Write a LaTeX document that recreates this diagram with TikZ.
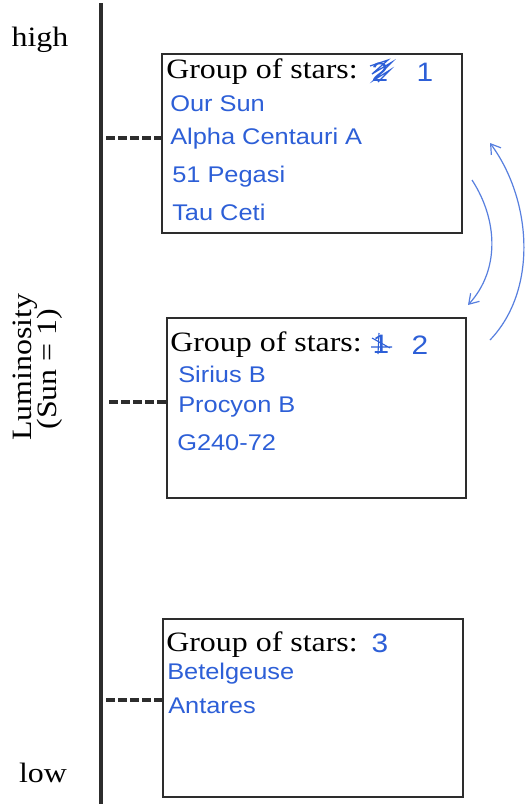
\documentclass[tikz,border=0pt]{standalone}
\usepackage{fontspec}
\setmainfont{Liberation Serif}
\newfontfamily\titlefont[FakeStretch=1.14]{Liberation Serif}
\newfontfamily\handfont[FakeStretch=1.12]{Liberation Sans}
\usetikzlibrary{arrows.meta}
\definecolor{ink}{RGB}{45,95,215}
\definecolor{frame}{RGB}{45,45,45}
\tikzset{
  groupbox/.style={draw=frame, line width=1.4pt},
  title/.style={anchor=west, inner sep=0pt, font=\titlefont\fontsize{21}{24}\selectfont, text=black},
  hand/.style={anchor=west, inner sep=0pt, font=\handfont\fontsize{17}{20}\selectfont, text=ink},
  handnum/.style={inner sep=0pt, font=\handfont\fontsize{20}{23}\selectfont, text=ink},
  lbl/.style={inner sep=0pt, font=\titlefont\fontsize{21}{24}\selectfont},
  axistick/.style={draw=frame, line width=2.4pt, dash pattern=on 6.5pt off 2.5pt},
  swap/.style={draw=ink!80, line width=0.9pt, -{Straight Barb[length=7pt,width=9pt]}}
}
\begin{document}
\begin{tikzpicture}[x=0.75pt,y=-0.75pt]
\useasboundingbox (0,0) rectangle (528,804);
\fill[white] (0,0) rectangle (528,804);
% axis
\coordinate (top) at (101,3);
\coordinate (bot) at (101,804);
\draw[draw=frame, line width=3pt] (top) -- (bot);
\node[lbl] (high) at (40,40) {high};
\node[lbl] (low) at (43,773) {low};
\node[lbl, rotate=90] (lum) at (25,367) {Luminosity};
\node[lbl, rotate=90] (sun) at (50,369) {(Sun = 1)};
% boxes
\node[groupbox, minimum width=300*0.75pt, minimum height=179*0.75pt, inner sep=0pt] (b1) at (312,143.5) {};
\node[groupbox, minimum width=299*0.75pt, minimum height=180*0.75pt, inner sep=0pt] (b2) at (316.5,408) {};
\node[groupbox, minimum width=300*0.75pt, minimum height=178*0.75pt, inner sep=0pt] (b3) at (313,708) {};
% ticks
\coordinate (t1) at (106,138);
\coordinate (t2) at (109,402);
\coordinate (t3) at (106,700);
\draw[axistick] (t1) -- (t1 -| b1.west);
\draw[axistick] (t2) -- (t2 -| b2.west);
\draw[axistick] (t3) -- (t3 -| b3.west);
% box 1
\node[title] (h1) at (166,72) {Group of stars:};
\node[handnum] (x1) at (380,72) {2};
\draw[ink, line width=0.9pt] (370,66) -- (388,60) -- (372,74) -- (392,62) -- (374,80) -- (390,70) -- (378,82);
\node[handnum] (n1) at (425,72) {1};
\node[hand] (s11) at (170,104) {Our Sun};
\node[hand] (s12) at (170,139) {Alpha Centauri A};
\node[hand] (s13) at (172,177) {51 Pegasi};
\node[hand] (s14) at (172,212) {Tau Ceti};
% box 2
\node[title] (h2) at (170,345) {Group of stars:};
\node[handnum] (x2) at (381,344) {1};
\draw[ink, line width=0.8pt] (372,338) -- (390,348) (371,347) -- (392,347) (379,333) -- (378,354);
\node[handnum] (n2) at (420,345) {2};
\node[hand] (s21) at (178,374) {Sirius B};
\node[hand] (s22) at (178,407) {Procyon B};
\node[hand] (s23) at (177,443) {G240-72};
% box 3
\node[title] (h3) at (166,645) {Group of stars:};
\node[handnum] (n3) at (380,643) {3};
\node[hand] (s31) at (167,674) {Betelgeuse};
\node[hand] (s32) at (168,706) {Antares};
% swap arrows
\coordinate (a1s) at (472,180);
\coordinate (a1e) at (468,305);
\coordinate (a2s) at (490,340);
\coordinate (a2e) at (490,143);
\draw[swap] (a1s) .. controls (498,220) and (500,270) .. (a1e);
\draw[swap] (a2s) .. controls (538,290) and (532,200) .. (a2e);
\end{tikzpicture}
\end{document}
